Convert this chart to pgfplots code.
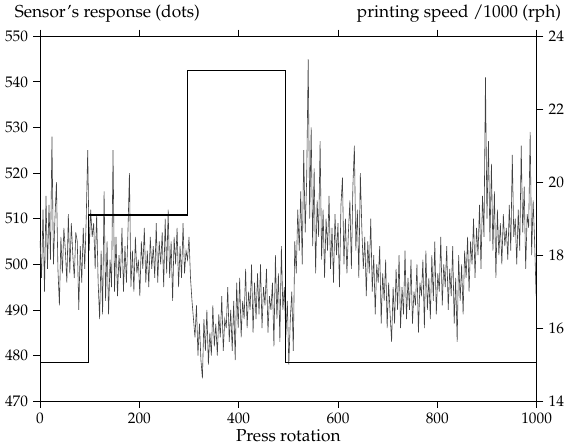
\documentclass[border=0pt]{standalone}
\usepackage[T1]{fontenc}
\usepackage{mathpazo}
\usepackage{pgfplots}
\pgfplotsset{compat=1.18}

\begin{document}
\fontsize{11.5}{13}\selectfont
\begin{tikzpicture}
    \begin{axis}[
        scale only axis,
        width=373.5pt,
        height=274.5pt,
        xmin=0, xmax=1000,
        ymin=470, ymax=550,
        xtick={0,200,...,1000},
        ytick={470,480,...,550},
        xtick pos=both,
        ytick pos=left,
        xticklabel pos=bottom,
        tick align=outside,
        major tick length=5pt,
        /pgf/number format/1000 sep={},
        axis line style={line width=0.6pt},
        every tick/.style={black, line width=0.6pt},
        xlabel={Press rotation},
        xlabel style={font=\fontsize{13}{15}\selectfont, yshift=4pt},
        clip=false,
    ]
    \addplot[black!75, line width=0.45pt] coordinates {
        (0,505) (3,497) (6,512) (9,494) (12,515) (15,499) (18,513) (21,501)
        (24,528) (27,500) (30,510) (33,518) (36,499) (39,491) (42,506) (45,498)
        (48,508) (51,503) (54,496) (57,511) (60,498) (63,509) (66,502) (69,497)
        (72,507) (75,505) (78,490) (81,504) (84,496) (87,508) (90,499) (93,510)
        (96,525) (99,503) (102,512) (105,506) (108,509) (111,499) (114,511) (117,496)
        (120,488) (123,503) (126,489) (129,516) (132,492) (135,505) (138,489) (141,501)
        (144,495) (147,525) (150,494) (153,506) (156,493) (159,502) (162,497) (165,508)
        (168,494) (171,504) (174,496) (177,507) (180,520) (183,495) (186,503) (189,494)
        (192,506) (195,498) (198,501) (201,493) (204,505) (207,499) (210,508) (213,496)
        (216,503) (219,495) (222,506) (225,499) (228,504) (231,497) (234,509) (237,496)
        (240,505) (243,500) (246,507) (249,495) (252,510) (255,498) (258,512) (261,497)
        (264,505) (267,492) (270,506) (273,500) (276,508) (279,495) (282,504) (285,497)
        (288,509) (291,498) (294,503) (297,501) (300,506) (303,497) (306,492) (309,488)
        (312,484) (315,491) (318,480) (321,487) (324,479) (327,475) (330,488) (333,481)
        (336,490) (339,478) (342,485) (345,480) (348,491) (351,482) (354,487) (357,480)
        (360,489) (363,484) (366,493) (369,481) (372,488) (375,486) (378,495) (381,483)
        (384,490) (387,481) (390,492) (393,479) (396,496) (399,486) (402,497) (405,484)
        (408,492) (411,488) (414,499) (417,486) (420,494) (423,490) (426,500) (429,485)
        (432,496) (435,488) (438,498) (441,489) (444,500) (447,486) (450,495) (453,491)
        (456,499) (459,485) (462,493) (465,490) (468,496) (471,482) (474,502) (477,488)
        (480,498) (483,483) (486,504) (489,490) (492,495) (495,484) (498,492) (501,478)
        (504,488) (507,494) (510,481) (513,505) (516,498) (519,512) (522,503) (525,516)
        (528,500) (531,525) (534,507) (537,519) (540,545) (543,510) (546,530) (549,504)
        (552,521) (555,498) (558,514) (561,506) (564,527) (567,501) (570,512) (573,497)
        (576,510) (579,503) (582,515) (585,499) (588,508) (591,496) (594,511) (597,502)
        (600,509) (603,495) (606,513) (609,519) (612,500) (615,510) (618,498) (621,507)
        (624,514) (627,499) (630,517) (633,526) (636,503) (639,512) (642,497) (645,520)
        (648,508) (651,499) (654,506) (657,493) (660,505) (663,498) (666,510) (669,494)
        (672,502) (675,489) (678,500) (681,496) (684,504) (687,487) (690,498) (693,492)
        (696,501) (699,486) (702,496) (705,489) (708,483) (711,495) (714,487) (717,499)
        (720,490) (723,502) (726,486) (729,495) (732,489) (735,503) (738,488) (741,497)
        (744,490) (747,501) (750,487) (753,494) (756,491) (759,500) (762,485) (765,496)
        (768,493) (771,501) (774,486) (777,503) (780,490) (783,497) (786,488) (789,502)
        (792,492) (795,505) (798,489) (801,498) (804,494) (807,506) (810,491) (813,500)
        (816,495) (819,504) (822,490) (825,499) (828,493) (831,504) (834,487) (837,497)
        (840,483) (843,502) (846,492) (849,500) (852,489) (855,503) (858,497) (861,506)
        (864,494) (867,505) (870,500) (873,510) (876,497) (879,508) (882,502) (885,513)
        (888,499) (891,515) (894,506) (897,541) (900,510) (903,527) (906,505) (909,522)
        (912,503) (915,516) (918,497) (921,512) (924,502) (927,509) (930,500) (933,511)
        (936,504) (939,508) (942,501) (945,513) (948,503) (951,524) (954,506) (957,510)
        (960,500) (963,512) (966,503) (969,526) (972,507) (975,517) (978,499) (981,511)
        (984,508) (987,529) (990,502) (993,514) (996,505) (999,493)
    };
    \node[anchor=base west, font=\fontsize{13}{15}\selectfont] at (rel axis cs:0,1) [xshift=-23pt, yshift=14pt] {Sensor's response (dots)};
    \end{axis}
    \begin{axis}[
        scale only axis,
        width=373.5pt,
        height=274.5pt,
        xmin=0, xmax=1000,
        ymin=14, ymax=24,
        axis x line=none,
        axis y line*=right,
        ytick={14,16,...,24},
        tick align=outside,
        major tick length=5pt,
        axis line style={line width=0.6pt},
        every tick/.style={black, line width=0.6pt},
        clip=false,
    ]
    \addplot[black, line width=0.8pt] coordinates {
        (0,15.06) (97,15.06) (97,19.1) (297,19.1) (297,23.07) (494,23.07) (494,15.06) (1000,15.06)
    };
    \node[anchor=base east, font=\fontsize{13}{15}\selectfont] at (rel axis cs:1,1) [xshift=22.5pt, yshift=14pt] {printing speed /1000 (rph)};
    \end{axis}
\end{tikzpicture}
\end{document}
